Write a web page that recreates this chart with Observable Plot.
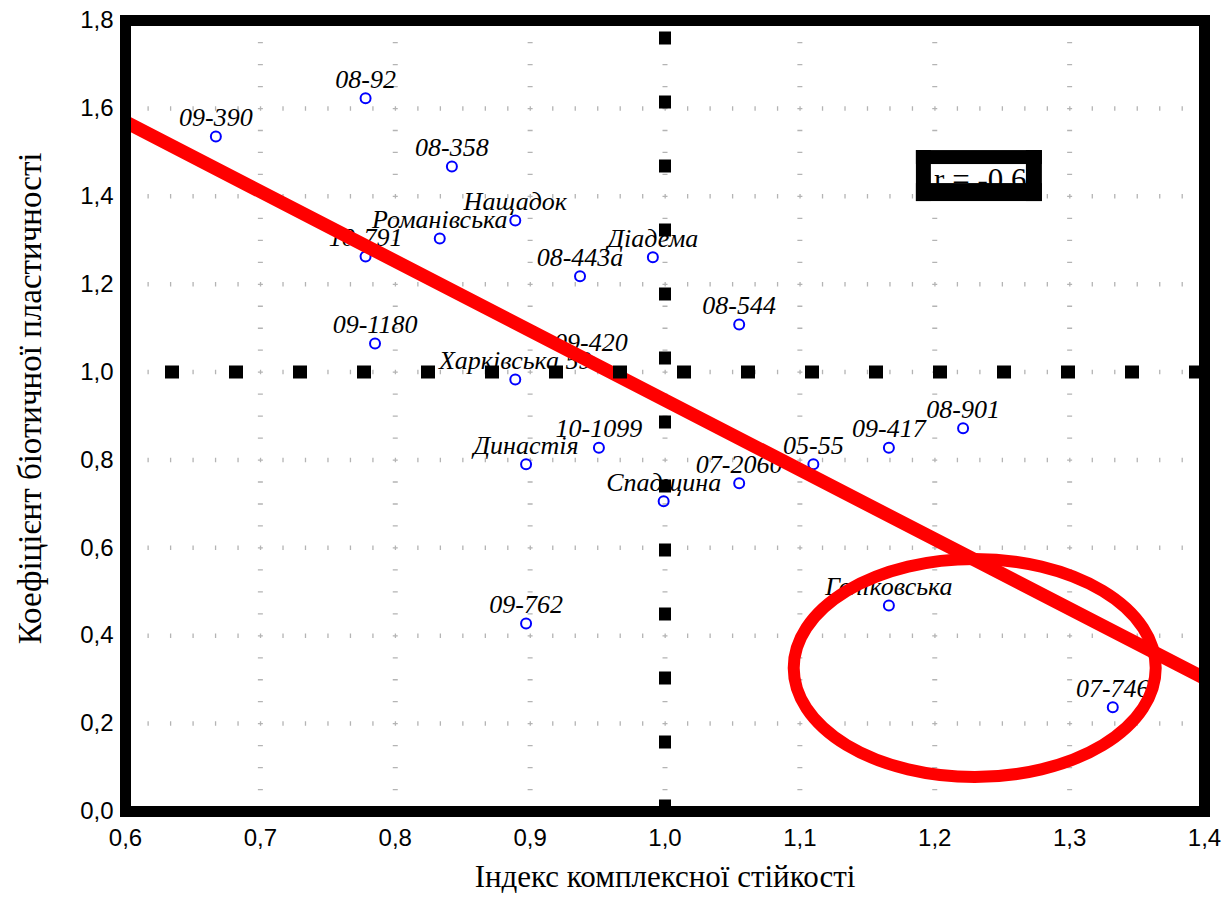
<!DOCTYPE html>
<html><head><meta charset="utf-8">
<script src="https://cdn.jsdelivr.net/npm/d3@7"></script>
<script src="https://cdn.jsdelivr.net/npm/@observablehq/plot@0.6"></script>
<style>body{margin:0;background:#fff}</style>
</head><body><div id="chart"></div>
<script>
// ---- data ----
const varieties = ["09-390","08-92","08-358","Нащадок","Романівська","10-791","08-443а","Діадема","08-544","09-1180","Харківська 59","09-420","10-1099","Династія","Спадщина","07-2060","05-55","09-417","08-901","Голіковська","07-746","09-762"];
const stability  = [0.667,0.778,0.842,0.889,0.833,0.778,0.937,0.991,1.055,0.785,0.889,0.945,0.951,0.897,0.999,1.055,1.110,1.166,1.221,1.166,1.332,0.897];
const plasticity = [1.536,1.623,1.468,1.345,1.304,1.263,1.218,1.261,1.108,1.065,0.983,1.024,0.828,0.790,0.706,0.747,0.790,0.828,0.872,0.469,0.237,0.428];

const xTicks = [0.6,0.7,0.8,0.9,1.0,1.1,1.2,1.3,1.4];
const yTicks = [0,0.2,0.4,0.6,0.8,1.0,1.2,1.4,1.6,1.8];

const fitX = [0.6, 1.4];
const fitY = [1.569, 0.303];

const refX = [1.0];
const refY = [1.0];

const ellipseCenter = [1.230, 0.3254];
const ellipseRadius = [0.1342, 0.248];

const corrText = ["r = -0,6"];
const corrBoxX = [1.1864, 1.2798];
const corrBoxY = [1.388, 1.504];
const corrTextPos = [1.1995, 1.436];

const xTitle = "Індекс комплексної стійкості";
const yTitle = "Коефіцієнт біотичної пластичності";
const yTitlePos = 0.94;

// ---- tables ----
const points = varieties.map((name, i) => ({name, x: stability[i], y: plasticity[i]}));
const fit = fitX.map((x, i) => ({x, y: fitY[i]}));
const box = [{x1: corrBoxX[0], x2: corrBoxX[1], y1: corrBoxY[0], y2: corrBoxY[1]}];
const fmt = d => d3.format(".1f")(d).replace(".", ",");

function ellipseMark(index, scales) {
  const {x, y} = scales;
  const cx = x(ellipseCenter[0]), cy = y(ellipseCenter[1]);
  return d3.create("svg:ellipse")
    .attr("cx", cx).attr("cy", cy)
    .attr("rx", Math.abs(x(ellipseCenter[0] + ellipseRadius[0]) - cx))
    .attr("ry", Math.abs(y(ellipseCenter[1] + ellipseRadius[1]) - cy))
    .attr("fill", "none").attr("stroke", "#ff0000").attr("stroke-width", 12)
    .node();
}

const gridColor = "#b4b4b4";
const serif = "Liberation Serif, Times New Roman, serif";
const sans = "Liberation Sans, Arial, sans-serif";

const chart = Plot.plot({
  width: 1231,
  height: 918,
  marginLeft: 125,
  marginRight: 27,
  marginTop: 20,
  marginBottom: 107,
  style: {fontFamily: sans, fontSize: "23px", background: "#fff", color: "#000"},
  x: {domain: [0.6, 1.4], axis: null},
  y: {domain: [0, 1.8], axis: null},
  marks: [
    Plot.ruleY(yTicks, {stroke: gridColor, strokeWidth: 4.5, strokeDasharray: "1.3,21.18"}),
    Plot.ruleX(xTicks, {stroke: gridColor, strokeWidth: 5, strokeDasharray: "1.3,20.67"}),
    Plot.dot(points, {x: "x", y: "y", r: 5, stroke: "#0000ff", strokeWidth: 2, fill: "none"}),
    Plot.text(points, {x: "x", y: "y", text: "name", dy: -19, fontFamily: serif, fontStyle: "italic", fontSize: 26, fill: "#000"}),
    Plot.line(fit, {x: "x", y: "y", stroke: "#ff0000", strokeWidth: 13.5, clip: true}),
    ellipseMark,
    Plot.ruleY(refY, {stroke: "#000", strokeWidth: 13, strokeDasharray: "14,50", strokeDashoffset: 24}),
    Plot.ruleX(refX, {stroke: "#000", strokeWidth: 12, strokeDasharray: "13,51", strokeDashoffset: 52.5}),
    Plot.frame({stroke: "#000", strokeWidth: 11}),
    // tick labels, positioned by the x and y scales
    Plot.text(yTicks, {y: d => d, text: fmt, frameAnchor: "left", textAnchor: "end", dx: -12, fontFamily: sans, fontSize: 24, fill: "#000", ariaLabel: "tick-label"}),
    Plot.text(xTicks, {x: d => d, text: fmt, frameAnchor: "bottom", dy: 34, fontFamily: sans, fontSize: 24, fill: "#000", ariaLabel: "tick-label"}),
    // correlation box
    Plot.rect(box, {x1: "x1", x2: "x2", y1: "y1", y2: "y2", fill: "#fff"}),
    Plot.text(corrText, {x: () => corrTextPos[0], y: () => corrTextPos[1], text: d => d, textAnchor: "start", fontFamily: serif, fontSize: 31, fill: "#000"}),
    Plot.rect(box, {x1: "x1", x2: "x2", y1: "y1", y2: "y2", fill: "#000", insetBottom: 37}),
    Plot.rect(box, {x1: "x1", x2: "x2", y1: "y1", y2: "y2", fill: "#000", insetTop: 33}),
    Plot.rect(box, {x1: "x1", x2: "x2", y1: "y1", y2: "y2", fill: "#000", insetRight: 111}),
    Plot.rect(box, {x1: "x1", x2: "x2", y1: "y1", y2: "y2", fill: "#000", insetLeft: 110}),
    // axis titles
    Plot.text([xTitle], {text: d => d, frameAnchor: "bottom", dy: 75, fontFamily: serif, fontSize: 31, fill: "#000"}),
    Plot.text([yTitle], {text: d => d, y: () => yTitlePos, frameAnchor: "left", textAnchor: "middle", dx: -95, rotate: -90, fontFamily: serif, fontSize: 33, fill: "#000"})
  ]
});
d3.select(chart).selectAll("g[aria-label='tick-label'] text").style("letter-spacing", "2px");
document.getElementById("chart").appendChild(chart);
</script>
</body></html>
